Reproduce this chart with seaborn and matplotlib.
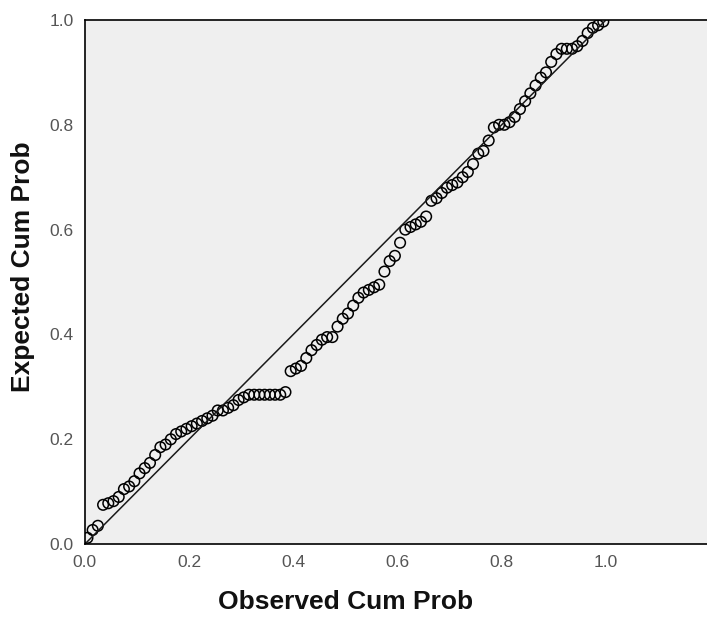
import numpy as np
import pandas as pd
import seaborn as sns
from matplotlib import pyplot as plt

# observed cumulative probability (x) and expected cumulative probability (y)
observed = [0.005, 0.015, 0.025, 0.035, 0.045, 0.055, 0.065, 0.075, 0.085, 0.095,
            0.105, 0.115, 0.125, 0.135, 0.145, 0.155, 0.165, 0.175, 0.185, 0.195,
            0.205, 0.215, 0.225, 0.235, 0.245, 0.255, 0.265, 0.275, 0.285, 0.295,
            0.305, 0.315, 0.325, 0.335, 0.345, 0.355, 0.365, 0.375, 0.385, 0.395,
            0.405, 0.415, 0.425, 0.435, 0.445, 0.455, 0.465, 0.475, 0.485, 0.495,
            0.505, 0.515, 0.525, 0.535, 0.545, 0.555, 0.565, 0.575, 0.585, 0.595,
            0.605, 0.615, 0.625, 0.635, 0.645, 0.655, 0.665, 0.675, 0.685, 0.695,
            0.705, 0.715, 0.725, 0.735, 0.745, 0.755, 0.765, 0.775, 0.785, 0.795,
            0.805, 0.815, 0.825, 0.835, 0.845, 0.855, 0.865, 0.875, 0.885, 0.895,
            0.905, 0.915, 0.925, 0.935, 0.945, 0.955, 0.965, 0.975, 0.985, 0.995]
expected = [0.012, 0.027, 0.035, 0.075, 0.078, 0.082, 0.090, 0.105, 0.110, 0.120,
            0.135, 0.145, 0.155, 0.170, 0.185, 0.190, 0.200, 0.210, 0.215, 0.220,
            0.225, 0.230, 0.235, 0.240, 0.245, 0.255, 0.255, 0.260, 0.265, 0.275,
            0.280, 0.285, 0.285, 0.285, 0.285, 0.285, 0.285, 0.285, 0.290, 0.330,
            0.335, 0.340, 0.355, 0.370, 0.380, 0.390, 0.395, 0.395, 0.415, 0.430,
            0.440, 0.455, 0.470, 0.480, 0.485, 0.490, 0.495, 0.520, 0.540, 0.550,
            0.575, 0.600, 0.605, 0.610, 0.615, 0.625, 0.655, 0.660, 0.670, 0.680,
            0.685, 0.690, 0.700, 0.710, 0.725, 0.745, 0.750, 0.770, 0.795, 0.800,
            0.800, 0.805, 0.815, 0.830, 0.845, 0.860, 0.875, 0.890, 0.900, 0.920,
            0.935, 0.945, 0.945, 0.945, 0.950, 0.960, 0.975, 0.985, 0.990, 0.997]
ref_line = [0.0, 1.0]
ticks = [0.0, 0.2, 0.4, 0.6, 0.8, 1.0]
tick_labels = ["0.0", "0.2", "0.4", "0.6", "0.8", "1.0"]

df = pd.DataFrame({"observed": observed, "expected": expected})

sns.set_style("white")
plt.rcParams['font.family'] = ['Liberation Sans', 'DejaVu Sans']

fig = plt.figure(figsize=(7.07, 6.24), dpi=100)
ax = fig.add_axes([0.120, 0.128, 0.88, 0.840])
ax.set_facecolor("#efefef")

sns.lineplot(x=ref_line, y=ref_line, color="#1a1a1a", linewidth=1.1, ax=ax)
sns.scatterplot(data=df, x="observed", y="expected", ax=ax, s=58,
                facecolor="none", edgecolor="black", linewidth=1.1, marker="o")

ax.set_xlim(0, 1.194)
ax.set_ylim(0, 1.0)
ax.set_xticks(ticks)
ax.set_xticklabels(tick_labels)
ax.set_yticks(ticks)
ax.set_yticklabels(tick_labels)
ax.tick_params(direction="out", length=6, width=1, color="black",
               labelsize=12.5, labelcolor="#555555", pad=2)

for side in ["left", "bottom", "top"]:
    ax.spines[side].set_visible(True)
    ax.spines[side].set_color("black")
    ax.spines[side].set_linewidth(1.2)
ax.spines["right"].set_visible(False)

ax.set_xlabel("Observed Cum Prob", fontsize=19, fontweight="bold", color="#111111")
ax.set_ylabel("Expected Cum Prob", fontsize=19, fontweight="bold", color="#111111")
ax.xaxis.set_label_coords(0.5 / 1.194, -0.088)
ax.yaxis.set_label_coords(-0.08, 0.53)

fig.savefig("out.png", dpi=100)
